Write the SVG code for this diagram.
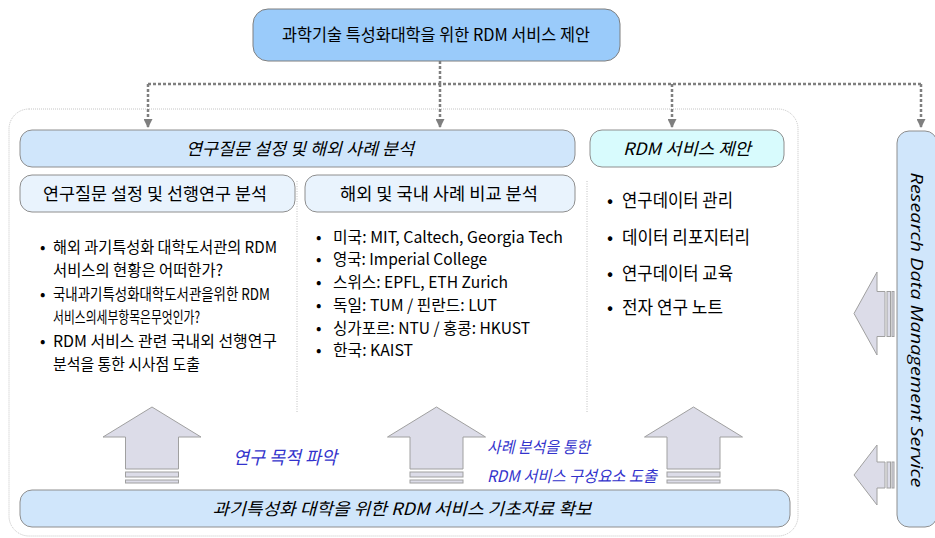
<svg xmlns="http://www.w3.org/2000/svg" width="935" height="538" viewBox="0 0 935 538">
<defs>
<marker id="ah" markerUnits="userSpaceOnUse" markerWidth="9" markerHeight="9" refX="9" refY="4.5" orient="auto">
<path d="M0,0 L9,4.5 L0,9 Z" fill="#7F7F7F"/>
</marker>
<style>
.kr{font-family:"Noto Sans CJK KR","Noto Sans",sans-serif;fill:#000}
.it{font-style:italic}
.blue{fill:#3333CC}
.band{fill:#D0E6FB;stroke:#8E8E8E;stroke-width:1}
.sub{fill:#E9F3FD;stroke:#8E8E8E;stroke-width:1}
.conn{fill:none;stroke:#7F7F7F;stroke-width:2.5;stroke-dasharray:3 2}
.arr{fill:#DCDCE8;stroke:#A0A0A0;stroke-width:1}
.div{stroke:#C0C0C0;stroke-width:1;stroke-dasharray:1 1.5}
</style>
</defs>
<rect x="0" y="0" width="935" height="538" fill="#FFFFFF"/>

<rect id="container" x="9" y="109" width="789" height="427" rx="20" fill="none" stroke="#C4C4C4" stroke-width="1" stroke-dasharray="1 1"/>

<g id="connectors">
<path class="conn" d="M440,61 V84"/>
<path class="conn" d="M148,84 H921"/>
<path class="conn" d="M148,84 V128" marker-end="url(#ah)"/>
<path class="conn" d="M440,84 V128" marker-end="url(#ah)"/>
<path class="conn" d="M672,84 V128" marker-end="url(#ah)"/>
<path class="conn" d="M921,84 V128" marker-end="url(#ah)"/>
</g>

<g id="top">
<rect x="253" y="9" width="367" height="52" rx="15" fill="#9ACBFA" stroke="#7F7F7F" stroke-width="1"/>
<text class="kr" x="436" y="41" font-size="17" text-anchor="middle" textLength="308" lengthAdjust="spacingAndGlyphs">과학기술 특성화대학을 위한 RDM 서비스 제안</text>
</g>

<g id="band-analysis">
<rect class="band" x="20" y="130" width="555" height="37" rx="12"/>
<text class="kr it" x="300" y="154.5" font-size="17" text-anchor="middle" textLength="228" lengthAdjust="spacingAndGlyphs">연구질문 설정 및 해외 사례 분석</text>
</g>

<g id="band-rdm">
<rect x="590" y="130" width="194" height="37" rx="12" fill="#D8FBFD" stroke="#8E8E8E" stroke-width="1"/>
<text class="kr it" x="687" y="154.5" font-size="17" text-anchor="middle" textLength="128" lengthAdjust="spacingAndGlyphs">RDM 서비스 제안</text>
</g>

<g id="rdms">
<rect x="897" y="131" width="40" height="396" rx="12" fill="#D0E6FB" stroke="#8E8E8E" stroke-width="1"/>
<text transform="translate(917,330) rotate(90)" x="0" y="6" font-family="'Open Sans','Noto Sans',sans-serif" font-style="italic" font-size="17" text-anchor="middle" textLength="315" lengthAdjust="spacingAndGlyphs" fill="#000">Research Data Management Service</text>
</g>

<g id="sub-left">
<rect class="sub" x="20" y="175" width="275" height="37" rx="12"/>
<text class="kr" x="155" y="199.5" font-size="17" text-anchor="middle" textLength="224" lengthAdjust="spacingAndGlyphs">연구질문 설정 및 선행연구 분석</text>
</g>

<g id="sub-mid">
<rect class="sub" x="305" y="175" width="270" height="37" rx="12"/>
<text class="kr" x="439" y="199.5" font-size="17" text-anchor="middle" textLength="198" lengthAdjust="spacingAndGlyphs">해외 및 국내 사례 비교 분석</text>
</g>

<line class="div" x1="297" y1="181" x2="297" y2="413"/>
<line class="div" x1="587" y1="181" x2="587" y2="413"/>

<g id="list-left" class="kr" font-size="16">
<text x="40" y="252.5">•</text>
<text x="53" y="252.5" textLength="224" lengthAdjust="spacingAndGlyphs">해외 과기특성화 대학도서관의 RDM</text>
<text x="53" y="276" textLength="170" lengthAdjust="spacingAndGlyphs">서비스의 현황은 어떠한가?</text>
<text x="40" y="299.5">•</text>
<text x="53" y="299.5" textLength="217" lengthAdjust="spacingAndGlyphs">국내과기특성화대학도서관을위한 RDM</text>
<text x="53" y="323" textLength="147" lengthAdjust="spacingAndGlyphs">서비스의세부항목은무엇인가?</text>
<text x="40" y="346.5">•</text>
<text x="53" y="346.5" textLength="224" lengthAdjust="spacingAndGlyphs">RDM 서비스 관련 국내외 선행연구</text>
<text x="53" y="370" textLength="147" lengthAdjust="spacingAndGlyphs">분석을 통한 시사점 도출</text>
</g>

<g id="list-mid" class="kr" font-size="16">
<text x="316" y="243">•</text>
<text x="333" y="243" textLength="230" lengthAdjust="spacingAndGlyphs">미국: MIT, Caltech, Georgia Tech</text>
<text x="316" y="265">•</text>
<text x="333" y="265" textLength="154" lengthAdjust="spacingAndGlyphs">영국: Imperial College</text>
<text x="316" y="288">•</text>
<text x="333" y="288" textLength="175" lengthAdjust="spacingAndGlyphs">스위스: EPFL, ETH Zurich</text>
<text x="316" y="311">•</text>
<text x="333" y="311" textLength="164" lengthAdjust="spacingAndGlyphs">독일: TUM / 핀란드: LUT</text>
<text x="316" y="333.5">•</text>
<text x="333" y="333.5" textLength="197" lengthAdjust="spacingAndGlyphs">싱가포르: NTU / 홍콩: HKUST</text>
<text x="316" y="356">•</text>
<text x="333" y="356" textLength="80" lengthAdjust="spacingAndGlyphs">한국: KAIST</text>
</g>

<g id="list-right" class="kr" font-size="18">
<text x="607" y="206.5">•</text>
<text x="622" y="206.5" textLength="111" lengthAdjust="spacingAndGlyphs">연구데이터 관리</text>
<text x="607" y="243.5">•</text>
<text x="622" y="243.5" textLength="128" lengthAdjust="spacingAndGlyphs">데이터 리포지터리</text>
<text x="607" y="279.5">•</text>
<text x="622" y="279.5" textLength="111" lengthAdjust="spacingAndGlyphs">연구데이터 교육</text>
<text x="607" y="313.5">•</text>
<text x="622" y="313.5" textLength="101" lengthAdjust="spacingAndGlyphs">전자 연구 노트</text>
</g>

<g id="up-arrow-1">
<path class="arr" d="M152,407 L201,437 L178.5,437 L178.5,469 L125.5,469 L125.5,437 L103,437 Z"/>
<rect class="arr" x="125.5" y="472" width="53" height="5"/>
<rect class="arr" x="125.5" y="480" width="53" height="3"/>
</g>
<g id="up-arrow-2">
<path class="arr" d="M436.5,407 L485.5,437 L463,437 L463,469 L410,469 L410,437 L387.5,437 Z"/>
<rect class="arr" x="410" y="472" width="53" height="5"/>
<rect class="arr" x="410" y="480" width="53" height="3"/>
</g>
<g id="up-arrow-3">
<path class="arr" d="M693.5,407 L742.5,437 L720,437 L720,469 L667,469 L667,437 L644.5,437 Z"/>
<rect class="arr" x="667" y="472" width="53" height="5"/>
<rect class="arr" x="667" y="480" width="53" height="3"/>
</g>

<g id="left-arrow-1">
<path class="arr" d="M854,313.5 L877,272 L877,291.5 L885,291.5 L885,336.5 L877,336.5 L877,355 Z"/>
<rect class="arr" x="887" y="291.5" width="3.5" height="45"/>
<rect class="arr" x="892" y="291.5" width="2" height="45"/>
</g>
<g id="left-arrow-2">
<path class="arr" d="M854,475 L877,445 L877,462 L885,462 L885,488 L877,488 L877,505 Z"/>
<rect class="arr" x="887" y="462" width="3.5" height="26"/>
<rect class="arr" x="892" y="462" width="2" height="26"/>
</g>

<g id="label-purpose">
<text class="kr it blue" x="233" y="463.5" font-size="18" textLength="104" lengthAdjust="spacingAndGlyphs">연구 목적 파악</text>
</g>
<g id="label-case">
<text class="kr it blue" x="487" y="452.5" font-size="16" textLength="103" lengthAdjust="spacingAndGlyphs">사례 분석을 통한</text>
<text class="kr it blue" x="487" y="481.5" font-size="16" textLength="170" lengthAdjust="spacingAndGlyphs">RDM 서비스 구성요소 도출</text>
</g>

<g id="band-base">
<rect class="band" x="20" y="490" width="770" height="37" rx="12"/>
<text class="kr it" x="402" y="514.5" font-size="17" text-anchor="middle" textLength="379" lengthAdjust="spacingAndGlyphs">과기특성화 대학을 위한 RDM 서비스 기초자료 확보</text>
</g>
</svg>
